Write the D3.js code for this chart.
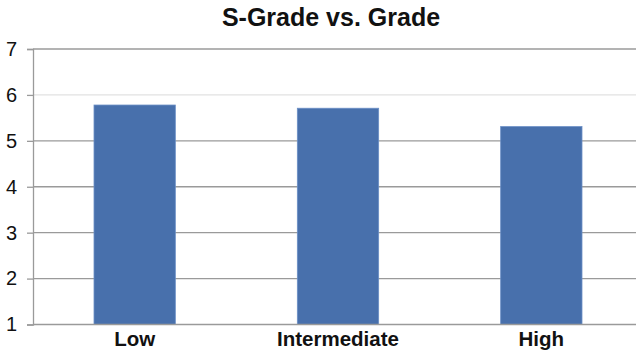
<!DOCTYPE html>
<html>
<head>
<meta charset="utf-8">
<script src="https://cdn.jsdelivr.net/npm/d3@7"></script>
<style>
  html, body { margin: 0; padding: 0; background: #fff; }
  svg { display: block; font-family: "Liberation Sans", Arial, sans-serif; }
</style>
</head>
<body>
<svg id="chart" width="636" height="353"></svg>
<script>
// Mean S-Grade per tumour grade
const categories = ["Low", "Intermediate", "High"];
const values = [5.78, 5.71, 5.31];
const yTicks = [1, 2, 3, 4, 5, 6, 7];
const title = "S-Grade vs. Grade";

const svg = d3.select("#chart");
const plot = { left: 33, right: 643, top: 49, bottom: 324.5 };

const x = d3.scaleBand()
  .domain(categories)
  .range([plot.left, plot.right])
  .paddingInner(0.6)
  .paddingOuter(0.3);

const y = d3.scaleLinear()
  .domain([1, 7])
  .range([plot.bottom, plot.top]);

// horizontal gridlines
svg.append("g")
  .selectAll("line")
  .data(yTicks.filter(d => d !== 1))
  .join("line")
  .attr("x1", plot.left)
  .attr("x2", 636)
  .attr("y1", d => y(d))
  .attr("y2", d => y(d))
  .attr("stroke", d => d === 6 ? "#e2e2e2" : "#9a9a9a")
  .attr("stroke-width", 1.3);

// bars
svg.append("g")
  .selectAll("rect")
  .data(values)
  .join("rect")
  .attr("x", (d, i) => x(categories[i]))
  .attr("y", d => y(d))
  .attr("width", x.bandwidth())
  .attr("height", d => y(1) - y(d))
  .attr("fill", "#4870ac")
  .attr("stroke", "#6b8fc6")
  .attr("stroke-width", 0.8);

// y axis
const yAxis = svg.append("g")
  .attr("transform", `translate(${plot.left},0)`)
  .call(d3.axisLeft(y).tickValues(yTicks).tickFormat(d3.format("d")).tickSize(6).tickPadding(10));
yAxis.select(".domain").attr("stroke", "#9a9a9a").attr("stroke-width", 1.3);
yAxis.selectAll(".tick line").attr("stroke", "#9a9a9a").attr("stroke-width", 1.3);
yAxis.selectAll(".tick text")
  .attr("font-size", 20)
  .attr("fill", "#111")
  .style("font-family", "Liberation Sans, Arial, sans-serif");

// x axis
const xAxis = svg.append("g")
  .attr("transform", `translate(0,${plot.bottom})`)
  .call(d3.axisBottom(x).tickSize(0).tickPadding(7));
xAxis.select(".domain").attr("stroke", "#9a9a9a").attr("stroke-width", 1.3)
  .attr("d", `M${plot.left},0H636`);
xAxis.selectAll(".tick text")
  .attr("font-size", 20.5)
  .attr("font-weight", "bold")
  .attr("fill", "#111")
  .style("font-family", "Liberation Sans, Arial, sans-serif");

// title
svg.append("text")
  .attr("x", 331)
  .attr("y", 26)
  .attr("text-anchor", "middle")
  .attr("font-size", 25)
  .attr("font-weight", "bold")
  .attr("fill", "#111")
  .text(title);
</script>
</body>
</html>
